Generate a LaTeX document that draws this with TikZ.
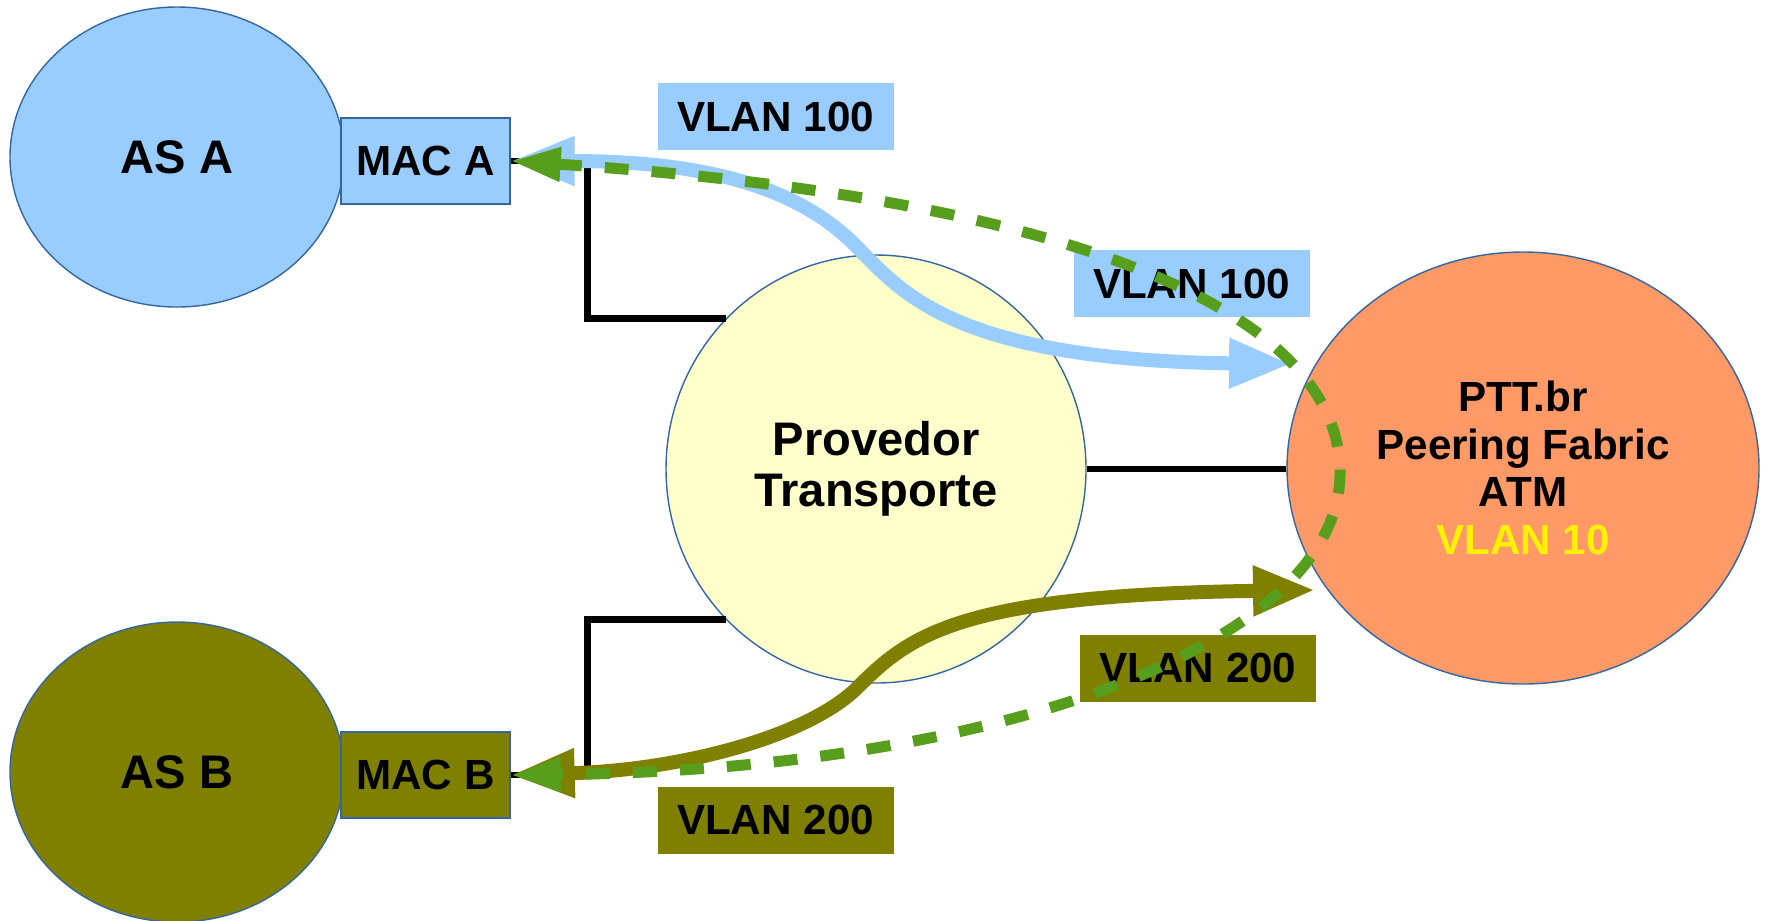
\documentclass[tikz,border=0pt]{standalone}
\usepackage{fontspec}
\setmainfont{Liberation Sans}
\usetikzlibrary{arrows.meta,shapes.geometric}
\usepackage{tkz-euclide}
\definecolor{AsAClr}{rgb}{0.6,0.8,1}
\definecolor{AsBClr}{rgb}{0.5,0.5,0}
\definecolor{ProvClr}{rgb}{1,1,0.8}
\definecolor{PttClr}{rgb}{1,0.6,0.4}
\definecolor{EdgeClr}{rgb}{0.2,0.4,0.64}
\definecolor{PathClr}{rgb}{0.34,0.62,0.11}

\begin{document}
\begin{tikzpicture}[
  cloud/.style={ellipse,draw=EdgeClr,line width=0.4pt,inner sep=0pt,align=center,font=\bfseries\fontsize{13.4}{14.5}\selectfont},
  macbox/.style={rectangle,draw=EdgeClr,line width=0.4pt,inner sep=0pt,minimum width=1.69cm,minimum height=0.86cm,font=\bfseries\fontsize{12}{13}\selectfont},
  vlanbox/.style={rectangle,inner sep=0pt,minimum width=2.36cm,minimum height=0.67cm,font=\bfseries\fontsize{12}{13}\selectfont},
  link/.style={line width=0.065cm,black},
  flow/.style={line width=0.14cm,{Triangle[length=0.64cm,width=0.46cm]}-{Triangle[length=0.62cm,width=0.47cm]}},
  route/.style={line width=0.11cm,color=PathClr,dash pattern=on 0.24cm off 0.23cm,{Triangle[length=0.5cm,width=0.32cm]}-{Triangle[length=0.5cm,width=0.32cm]}}]
\useasboundingbox (0,0) rectangle (17.65,-9.2);

\tkzDefPoints{1.77/-1.57/A,4.255/-1.61/Ma,1.77/-7.72/B,4.255/-7.75/Mb,8.76/-4.69/P,15.23/-4.68/T}
\tkzDefPoints{7.755/-1.165/Va,11.915/-2.835/Vb,11.98/-6.68/Vc,7.755/-8.2/Vd}
\tkzDefPoints{12.91/-3.64/in100,13.15/-5.90/in200,13.40/-4.73/turn}

\node[cloud,fill=AsAClr,minimum width=3.34cm,minimum height=3.0cm] (asa) at (A) {AS A};
\node[macbox,fill=AsAClr] (maca) at (Ma) {MAC A};
\node[cloud,fill=AsBClr,minimum width=3.34cm,minimum height=3.0cm] (asb) at (B) {AS B};
\node[macbox,fill=AsBClr] (macb) at (Mb) {MAC B};
\node[cloud,fill=ProvClr,minimum width=4.2cm,minimum height=4.28cm] (prov) at (P) {Provedor\\Transporte};
\node[cloud,fill=PttClr,minimum width=4.72cm,minimum height=4.32cm,font=\bfseries\fontsize{12}{13.5}\selectfont] (ptt) at (T) {PTT.br\\Peering Fabric\\ATM\\\textcolor{yellow}{VLAN 10}};

\draw[link] (maca.east) -- ++(0.77,0) |- (prov.135);
\draw[link] (macb.east) -- ++(0.77,0) |- (prov.225);
\draw[link] (prov.east) -- (prov.east -| ptt.west);

\node[vlanbox,fill=AsAClr] (vlana) at (Va) {VLAN 100};
\node[vlanbox,fill=AsAClr] (vlanb) at (Vb) {VLAN 100};
\node[vlanbox,fill=AsBClr] (vlanc) at (Vc) {VLAN 200};
\node[vlanbox,fill=AsBClr] (vland) at (Vd) {VLAN 200};

\draw[flow,AsAClr] (maca.east) .. controls (7.0,-1.61) and (7.95,-1.85) .. (8.55,-2.45) .. controls (9.0,-2.9) and (9.5,-3.6) .. (in100);
\draw[flow,AsBClr] (macb.east) .. controls (6.8,-7.70) and (8.08,-7.37) .. (8.58,-6.87) .. controls (9.1,-6.35) and (9.6,-5.95) .. (in200);
\draw[route] (maca.east) .. controls (11.09,-2.01) and (13.4,-3.23) .. (turn) .. controls (13.4,-6.43) and (10.0,-7.70) .. (macb.east);

\end{tikzpicture}
\end{document}
